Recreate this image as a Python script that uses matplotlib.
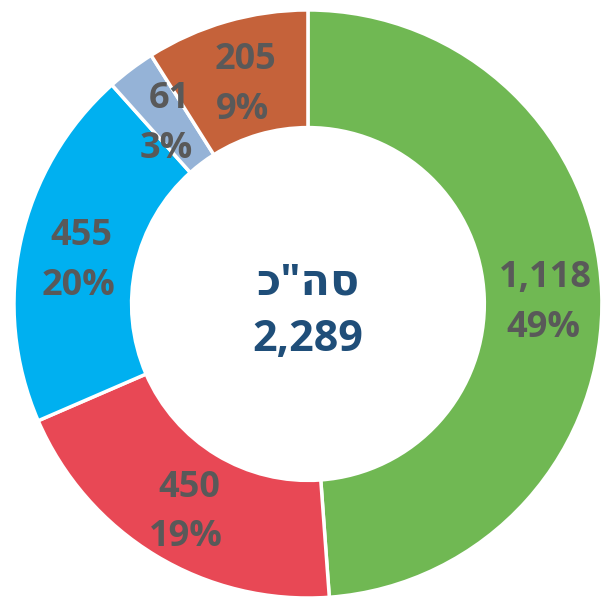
import numpy as np
import matplotlib
matplotlib.use("Agg")
import matplotlib.pyplot as plt

values = [1118, 450, 455, 61, 205]
pct_labels = ["49%", "19%", "20%", "3%", "9%"]
colors = ["#70B853", "#E84855", "#00B0F0", "#95B3D7", "#C5623A"]
total_label = "כ\"הס"
total_value = 2289

fonts = ["Open Sans", "DejaVu Sans"]

fig = plt.figure(figsize=(6.03, 5.97), dpi=100)
ax = fig.add_axes([0.0232, -0.0017, 0.975, 0.985])
wedges, _ = ax.pie(values, colors=colors, startangle=90, counterclock=False,
                   radius=1.0, wedgeprops=dict(width=0.4, edgecolor="white", linewidth=2.5))
ax.set_xlim(-1, 1)
ax.set_ylim(-1, 1)
ax.set_aspect("auto")
ax.axis("off")

r = 0.8
for w, v, p in zip(wedges, values, pct_labels):
    ang = np.deg2rad((w.theta1 + w.theta2) / 2)
    x, y = r * np.cos(ang), r * np.sin(ang)
    ax.text(x + 0.01, y + 0.06, f"{v:,}", ha="center", va="center", fontsize=26,
            fontweight="bold", color="#595959", family=fonts)
    ax.text(x, y - 0.11, p, ha="center", va="center", fontsize=26,
            fontweight="bold", color="#595959", family=fonts)

ax.text(0, 0.07, total_label, ha="center", va="center", fontsize=31,
        fontweight="bold", color="#1F4E79", family=fonts)
ax.text(0, -0.12, f"{total_value:,}", ha="center", va="center", fontsize=31,
        fontweight="bold", color="#1F4E79", family=fonts)

fig.savefig("out.png", dpi=100)
